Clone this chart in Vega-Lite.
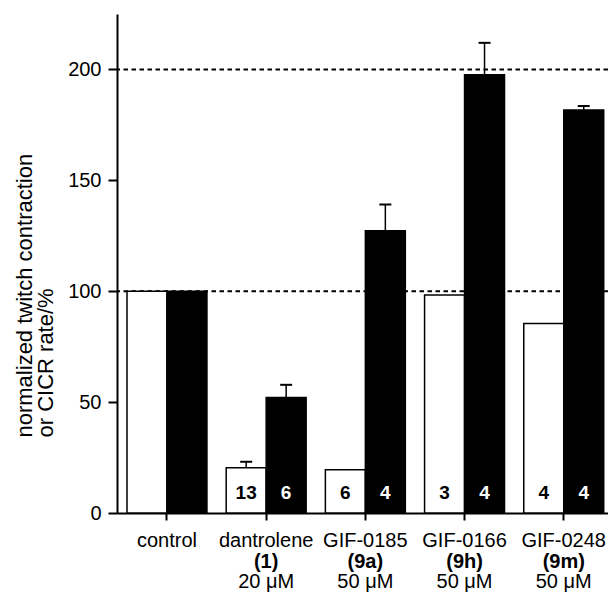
{
  "$schema": "https://vega.github.io/schema/vega-lite/v6.json",
  "width": 491,
  "height": 499,
  "autosize": {"type": "none"},
  "padding": {"left": 117, "top": 14, "right": 0, "bottom": 80},
  "background": "white",
  "config": {
    "view": {"stroke": null},
    "font": "Liberation Sans",
    "axis": {"domainColor": "black", "tickColor": "black", "domainWidth": 2, "tickWidth": 2, "grid": false, "labelColor": "black", "titleColor": "black"}
  },
  "datasets": {
    "bars": [
      {"compound": "control", "measure": "twitch", "value": 100, "err": null, "n": null},
      {"compound": "control", "measure": "CICR", "value": 100, "err": null, "n": null},
      {"compound": "dantrolene", "measure": "twitch", "value": 20.4, "err": 23.1, "n": "13"},
      {"compound": "dantrolene", "measure": "CICR", "value": 52.1, "err": 57.8, "n": "6"},
      {"compound": "GIF-0185", "measure": "twitch", "value": 19.5, "err": null, "n": "6"},
      {"compound": "GIF-0185", "measure": "CICR", "value": 127.3, "err": 139.1, "n": "4"},
      {"compound": "GIF-0166", "measure": "twitch", "value": 98.3, "err": null, "n": "3"},
      {"compound": "GIF-0166", "measure": "CICR", "value": 197.6, "err": 212, "n": "4"},
      {"compound": "GIF-0248", "measure": "twitch", "value": 85.5, "err": null, "n": "4"},
      {"compound": "GIF-0248", "measure": "CICR", "value": 181.7, "err": 183.5, "n": "4"}
    ],
    "groups": [
      {"compound": "control", "line1": "control", "line2": "", "line3": ""},
      {"compound": "dantrolene", "line1": "dantrolene", "line2": "(1)", "line3": "20 μM"},
      {"compound": "GIF-0185", "line1": "GIF-0185", "line2": "(9a)", "line3": "50 μM"},
      {"compound": "GIF-0166", "line1": "GIF-0166", "line2": "(9h)", "line3": "50 μM"},
      {"compound": "GIF-0248", "line1": "GIF-0248", "line2": "(9m)", "line3": "50 μM"}
    ],
    "refs": [{"ref": 100}, {"ref": 200}]
  },
  "layer": [
    {
      "data": {"name": "refs"},
      "mark": {"type": "rule", "strokeDash": [4.5, 3.5], "strokeWidth": 2, "color": "black"},
      "encoding": {
        "y": {
          "field": "ref", "type": "quantitative",
          "scale": {"domain": [0, 225], "nice": false},
          "axis": {
            "values": [0, 50, 100, 150, 200], "labelFontSize": 20, "labelPadding": 7, "tickSize": 9,
            "title": ["normalized twitch contraction", "or CICR rate/%"],
            "titleFontSize": 22, "titleFontWeight": "normal", "titleAngle": 270,
            "titleAlign": "left", "titleBaseline": "alphabetic", "titleX": -86, "titleY": 423, "titleLineHeight": 21
          }
        }
      }
    },
    {
      "data": {"name": "bars"},
      "mark": {"type": "bar", "stroke": "black", "strokeWidth": 1.5},
      "encoding": {
        "x": {"field": "compound", "type": "nominal", "sort": ["control", "dantrolene", "GIF-0185", "GIF-0166", "GIF-0248"],
              "scale": {"paddingInner": 0.194, "paddingOuter": 0.072, "align": 0.7},
              "axis": {"title": null, "labels": false, "tickSize": 7}},
        "xOffset": {"field": "measure", "type": "nominal", "sort": ["twitch", "CICR"], "scale": {"paddingInner": 0, "paddingOuter": 0}},
        "y": {"field": "value", "type": "quantitative"},
        "fill": {"condition": {"test": "datum.measure === 'CICR'", "value": "black"}, "value": "white"}
      }
    },
    {
      "data": {"name": "bars"},
      "transform": [{"filter": "isValid(datum.err)"}],
      "mark": {"type": "rule", "strokeWidth": 1.5, "color": "black"},
      "encoding": {
        "x": {"field": "compound", "type": "nominal", "sort": ["control", "dantrolene", "GIF-0185", "GIF-0166", "GIF-0248"]},
        "xOffset": {"field": "measure", "type": "nominal", "sort": ["twitch", "CICR"]},
        "y": {"field": "value", "type": "quantitative"},
        "y2": {"field": "err"}
      }
    },
    {
      "data": {"name": "bars"},
      "transform": [{"filter": "isValid(datum.err)"}],
      "mark": {"type": "tick", "orient": "horizontal", "size": 12, "thickness": 2, "color": "black", "opacity": 1},
      "encoding": {
        "x": {"field": "compound", "type": "nominal", "sort": ["control", "dantrolene", "GIF-0185", "GIF-0166", "GIF-0248"]},
        "xOffset": {"field": "measure", "type": "nominal", "sort": ["twitch", "CICR"]},
        "y": {"field": "err", "type": "quantitative"}
      }
    },
    {
      "data": {"name": "bars"},
      "transform": [{"filter": "isValid(datum.n)"}],
      "mark": {"type": "text", "fontSize": 19, "fontWeight": "bold", "baseline": "middle", "dy": -20},
      "encoding": {
        "x": {"field": "compound", "type": "nominal", "sort": ["control", "dantrolene", "GIF-0185", "GIF-0166", "GIF-0248"]},
        "xOffset": {"field": "measure", "type": "nominal", "sort": ["twitch", "CICR"]},
        "y": {"datum": 0},
        "text": {"field": "n"},
        "color": {"condition": {"test": "datum.measure === 'CICR'", "value": "white"}, "value": "black"}
      }
    },
    {
      "data": {"name": "groups"},
      "mark": {"type": "text", "fontSize": 20, "baseline": "alphabetic", "dy": 34, "color": "black"},
      "encoding": {
        "x": {"field": "compound", "type": "nominal", "sort": ["control", "dantrolene", "GIF-0185", "GIF-0166", "GIF-0248"]},
        "y": {"datum": 0},
        "text": {"field": "line1"}
      }
    },
    {
      "data": {"name": "groups"},
      "mark": {"type": "text", "fontSize": 20, "fontWeight": "bold", "baseline": "alphabetic", "dy": 55, "color": "black"},
      "encoding": {
        "x": {"field": "compound", "type": "nominal", "sort": ["control", "dantrolene", "GIF-0185", "GIF-0166", "GIF-0248"]},
        "y": {"datum": 0},
        "text": {"field": "line2"}
      }
    },
    {
      "data": {"name": "groups"},
      "mark": {"type": "text", "fontSize": 20, "baseline": "alphabetic", "dy": 75, "color": "black"},
      "encoding": {
        "x": {"field": "compound", "type": "nominal", "sort": ["control", "dantrolene", "GIF-0185", "GIF-0166", "GIF-0248"]},
        "y": {"datum": 0},
        "text": {"field": "line3"}
      }
    }
  ]
}
